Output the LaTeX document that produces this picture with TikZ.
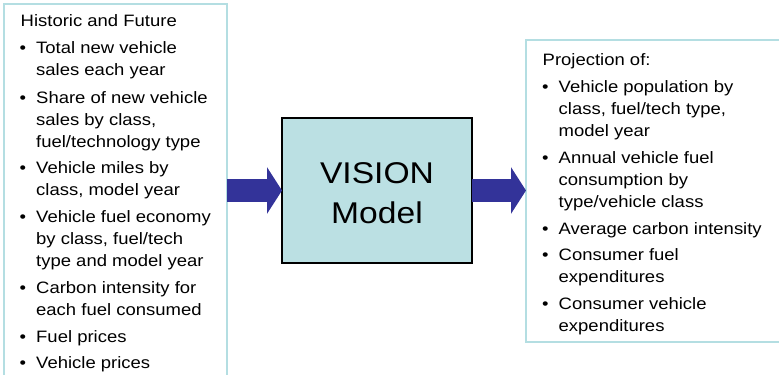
\documentclass[tikz,border=0pt]{standalone}
\usepackage{fontspec}
\setmainfont{Liberation Sans}[FakeStretch=1.12]
\usetikzlibrary{arrows.meta}
\definecolor{panelline}{HTML}{B4DEE2}
\definecolor{modelfill}{HTML}{BBE0E3}
\definecolor{arrowblue}{HTML}{333399}
\tikzset{
  panel/.style={draw=panelline, line width=1.6bp, inner sep=0pt, outer sep=0pt, anchor=north west},
  model/.style={draw=black, line width=1.2bp, fill=modelfill, inner sep=0pt, outer sep=0pt,
    minimum width=190bp, minimum height=145bp},
  modeltxt/.style={inner sep=0pt, align=center, font=\fontsize{30bp}{40bp}\selectfont},
  txt/.style={inner sep=0pt, anchor=base west, font=\fontsize{16.5bp}{22.2bp}\selectfont},
  fatarrow/.style={draw=arrowblue, line width=23bp, -{Triangle[length=15bp,width=46bp]}, arrowblue}
}
\newcommand\bitem[4]{\node[txt] (#1) at (#2,#3) {\llap{\textbullet\hspace{10bp}}\parbox[t]{240bp}{#4}};}
\begin{document}
\begin{tikzpicture}[x=1bp,y=-1bp]
\useasboundingbox (0,0) rectangle (779,374);
% panels
\node[panel, minimum width=223bp, minimum height=440bp] (inputs) at (4,4) {};
\node[panel, minimum width=280bp, minimum height=302bp] (outputs) at (526,40) {};
\node[model] (model) at (377,190.5) {};
\node[modeltxt] (modeltext) at ([yshift=-2.5bp]model.center) {VISION\\Model};
% arrows
\draw[fatarrow] (inputs.east |- model.west) -- (model.west);
\draw[fatarrow] (model.east) -- (outputs.west |- model.east);
% left text
\node[txt] (lhead) at (20.5,26) {Historic and Future};
\bitem{l1}{36}{53.3}{Total new vehicle\\sales each year}
\bitem{l2}{36}{103.3}{Share of new vehicle\\sales by class,\\fuel/technology type}
\bitem{l3}{36}{173.3}{Vehicle miles by\\class, model year}
\bitem{l4}{36}{222.3}{Vehicle fuel economy\\by class, fuel/tech\\type and model year}
\bitem{l5}{36}{293.3}{Carbon intensity for\\each fuel consumed}
\bitem{l6}{36}{342}{Fuel prices}
\bitem{l7}{36}{368.3}{Vehicle prices}
% right text
\node[txt] (rhead) at (542.5,65.3) {Projection of:};
\bitem{r1}{558.5}{92.3}{Vehicle population by\\class, fuel/tech type,\\model year}
\bitem{r2}{558.5}{163.3}{Annual vehicle fuel\\consumption by\\type/vehicle class}
\bitem{r3}{558.5}{234.3}{Average carbon intensity}
\bitem{r4}{558.5}{260.3}{Consumer fuel\\expenditures}
\bitem{r5}{558.5}{309.3}{Consumer vehicle\\expenditures}
\end{tikzpicture}
\end{document}
